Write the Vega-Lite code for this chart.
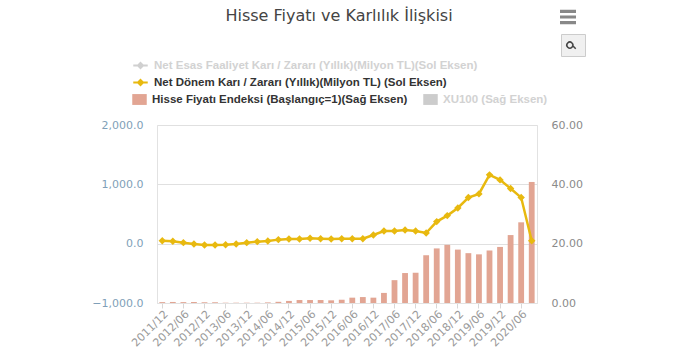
{
"$schema":"https://vega.github.io/schema/vega-lite/v6.json",
"width":380,"height":178,
"autosize":{"type":"none"},
"padding":{"left":157,"top":125,"right":153,"bottom":53},
"background":"white",
"title":{"text":"Hisse Fiyatı ve Karlılık İlişkisi","anchor":"middle","dx":-8,"offset":-15,"font":"DejaVu Sans","fontSize":16,"fontWeight":"normal","color":"#444"},
"config":{"view":{"stroke":"#e2e2e2"},"legend":{"orient":"none"}},
"data":{"values":[
{"p":"2011/12","net":50,"idx":0.3},{"p":"2012/03","net":40,"idx":0.35},{"p":"2012/06","net":17,"idx":0.3},{"p":"2012/09","net":-6,"idx":0.3},
{"p":"2012/12","net":-22,"idx":0.25},{"p":"2013/03","net":-22,"idx":0.25},{"p":"2013/06","net":-17,"idx":0.1},{"p":"2013/09","net":-6,"idx":0.1},
{"p":"2013/12","net":17,"idx":0.1},{"p":"2014/03","net":34,"idx":0.1},{"p":"2014/06","net":45,"idx":0.2},{"p":"2014/09","net":68,"idx":0.4},
{"p":"2014/12","net":79,"idx":0.7},{"p":"2015/03","net":79,"idx":1.0},{"p":"2015/06","net":90,"idx":1.0},{"p":"2015/09","net":84,"idx":1.0},
{"p":"2015/12","net":79,"idx":0.9},{"p":"2016/03","net":84,"idx":1.1},{"p":"2016/06","net":84,"idx":1.8},{"p":"2016/09","net":84,"idx":2.0},
{"p":"2016/12","net":146,"idx":1.8},{"p":"2017/03","net":214,"idx":3.4},{"p":"2017/06","net":214,"idx":7.7},{"p":"2017/09","net":231,"idx":10.1},
{"p":"2017/12","net":214,"idx":10.2},{"p":"2018/03","net":180,"idx":16.1},{"p":"2018/06","net":372,"idx":18.4},{"p":"2018/09","net":473,"idx":19.6},
{"p":"2018/12","net":602,"idx":18.0},{"p":"2019/03","net":777,"idx":16.8},{"p":"2019/06","net":839,"idx":16.4},{"p":"2019/09","net":1160,"idx":17.7},
{"p":"2019/12","net":1075,"idx":18.9},{"p":"2020/03","net":929,"idx":22.9},{"p":"2020/06","net":777,"idx":27.2},{"p":"2020/09","net":50,"idx":40.8}
]},
"resolve":{"scale":{"y":"independent"},"axis":{"y":"independent"}},
"encoding":{"x":{"field":"p","type":"nominal","sort":null,"scale":{"paddingInner":0.45,"paddingOuter":0.225},
 "axis":{"title":null,"values":["2011/12","2012/06","2012/12","2013/06","2013/12","2014/06","2014/12","2015/06","2015/12","2016/06","2016/12","2017/06","2017/12","2018/06","2018/12","2019/06","2019/12","2020/06"],"labelAngle":-45,"labelAlign":"right","labelBaseline":"top","labelFont":"DejaVu Sans","labelFontSize":11,"labelColor":"#9a9a9a","tickColor":"#d8d8d8","tickSize":5,"domainColor":"#e2e2e2","labelPadding":0,"grid":false,"labelOverlap":false}}},
"layer":[
{"mark":{"type":"bar"},
 "encoding":{"y":{"field":"idx","type":"quantitative","scale":{"domain":[0,60]},
   "axis":{"orient":"right","title":null,"values":[0,20,40,60],"format":".2f","labelFont":"DejaVu Sans","labelFontSize":11,"labelColor":"#8a8a8a","domain":false,"ticks":false,"grid":false,"labelPadding":14}},
  "fill":{"datum":"Hisse Fiyatı Endeksi (Başlangıç=1)(Sağ Eksen)","type":"nominal","scale":{"domain":["Hisse Fiyatı Endeksi (Başlangıç=1)(Sağ Eksen)","XU100 (Sağ Eksen)"],"range":["#e2a593","#cccccc"]},
   "legend":{"title":null,"legendX":-25,"legendY":-33,"columns":2,"columnPadding":15,"symbolType":"M-1,-0.75H1V0.75H-1Z","symbolSize":210,"symbolStrokeWidth":0,"labelFont":"Liberation Sans","labelFontSize":11.5,"labelFontWeight":"bold","labelLimit":400,"labelOffset":5,
    "encode":{"labels":{"update":{"fill":{"signal":"indexof(datum.label,'XU100')>=0 ? '#d2d2d2' : '#333333'"}}}}}}}},
{"mark":{"type":"line","strokeWidth":2.5,"point":{"shape":"diamond","filled":true,"size":55}},
 "encoding":{"y":{"field":"net","type":"quantitative","scale":{"domain":[-1000,2000]},
   "axis":{"orient":"left","title":null,"values":[-1000,0,1000,2000],"format":",.1f","labelFont":"DejaVu Sans","labelFontSize":11,"labelColor":"#7f9fb8","domain":false,"ticks":false,"grid":true,"gridColor":"#e0e0e0","labelPadding":14}},
  "color":{"datum":"Net Dönem Karı / Zararı (Yıllık)(Milyon TL) (Sol Eksen)","type":"nominal","scale":{"domain":["Net Esas Faaliyet Karı / Zararı (Yıllık)(Milyon TL)(Sol Eksen)","Net Dönem Karı / Zararı (Yıllık)(Milyon TL) (Sol Eksen)"],"range":["#d0d0d0","#e8b90f"]},
   "legend":{"title":null,"legendX":-25,"legendY":-68,"rowPadding":1,"symbolType":"M-1,0H1M0,-0.35L0.35,0L0,0.35L-0.35,0Z","symbolSize":210,"symbolStrokeWidth":2,"labelFont":"Liberation Sans","labelFontSize":11.5,"labelFontWeight":"bold","labelLimit":400,"labelOffset":5,
    "encode":{"labels":{"update":{"fill":{"signal":"indexof(datum.label,'Esas')>=0 ? '#d2d2d2' : '#333333'"}}}}}}}},
{"transform":[{"filter":"false"}],"mark":{"type":"point","filled":true,"color":"#555555"},
 "encoding":{"shape":{"datum":"menu","type":"nominal","scale":{"domain":["menu"],"range":["M-1,-0.9H1V-0.5H-1ZM-1,-0.2H1V0.2H-1ZM-1,0.5H1V0.9H-1Z"]},
   "legend":{"title":null,"legendX":403,"legendY":-116,"symbolSize":256,"symbolStrokeWidth":0,"labelExpr":"''"}}}},
{"transform":[{"filter":"false"}],"mark":{"type":"point","filled":false,"color":"#444444","shape":"M0.2,-0.2A0.6,0.6 0 1 1 0.19,-0.21ZM0.3,0.3L0.95,0.95","strokeWidth":1.6},
 "encoding":{"opacity":{"datum":"zoom","type":"nominal","scale":{"domain":["zoom"],"range":[1]},
   "legend":{"title":null,"legendX":404,"legendY":-91,"padding":4,"fillColor":"#f0f0f0","strokeColor":"#cccccc","labelExpr":"''"}}}}
]
}
